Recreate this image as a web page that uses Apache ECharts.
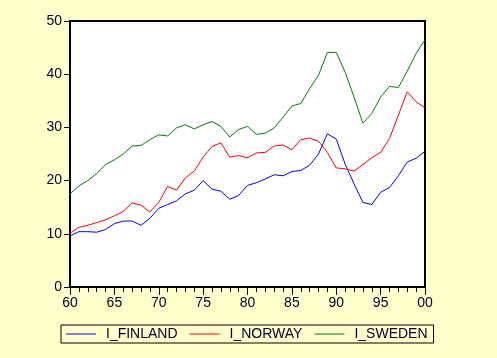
<!DOCTYPE html>
<html><head><meta charset="utf-8">
<script src="https://cdn.jsdelivr.net/npm/echarts@6/dist/echarts.min.js"></script>
<style>html,body{margin:0;padding:0;background:#FFFFCC;}#c{width:497px;height:358px;}</style>
</head><body><div id="c"></div>
<script>
const years = [];
for (let y = 1960; y <= 2000; y++) years.push(y);
const finland = [9.6,10.4,10.4,10.3,10.8,11.9,12.4,12.4,11.6,12.9,14.8,15.5,16.2,17.5,18.2,20.0,18.4,18.0,16.5,17.2,19.1,19.6,20.3,21.1,20.9,21.7,21.9,22.9,25.0,28.8,27.8,23.1,19.4,15.9,15.5,17.8,18.7,20.9,23.5,24.2,25.5];
const norway = [10.1,11.2,11.6,12.1,12.6,13.4,14.2,15.8,15.4,14.1,15.9,18.9,18.2,20.5,21.8,24.4,26.4,27.1,24.4,24.7,24.3,25.2,25.3,26.5,26.7,25.8,27.7,28.0,27.4,25.3,22.4,22.2,21.8,23.0,24.3,25.3,27.9,32.3,36.7,34.8,33.7];
const sweden = [17.5,19.0,20.0,21.3,23.0,23.9,25.0,26.5,26.6,27.7,28.6,28.4,29.9,30.5,29.7,30.5,31.1,30.2,28.2,29.6,30.2,28.7,28.9,29.9,31.9,34.0,34.5,37.3,39.8,44.1,44.1,40.4,35.7,30.8,32.6,35.7,37.7,37.5,40.6,43.9,46.5];
const names = ['I_FINLAND','I_NORWAY','I_SWEDEN'];
const colors = ['#0000FF','#FF0000','#008000'];
const yTicks = [0,10,20,30,40,50];

const chart = echarts.init(document.getElementById('c'));
const pair = arr => years.map((y,i)=>[y,arr[i]]);
const txt = '#000033';
chart.setOption({
  animation:false,
  backgroundColor:'#FFFFCC',
  textStyle:{fontFamily:'Liberation Sans, Arial, sans-serif'},
  grid:{left:70,top:21,right:72,bottom:71,show:true,backgroundColor:'#FFFFFF',borderColor:'#000',borderWidth:2},
  legend:{
    left:61, top:325, itemWidth:30, itemHeight:10, itemGap:12,
    padding:[2,6,2,5], borderColor:'#000', borderWidth:1,
    icon:'path://M0,0 L30,0 L30,1 L0,1 Z',
    textStyle:{fontSize:14,color:txt,padding:[0,0,0,5],fontFamily:'Liberation Sans, Arial, sans-serif'},
    data:names
  },
  xAxis:{
    type:'value', min:1960, max:2000, interval:5,
    axisLine:{show:true,lineStyle:{color:'#000',width:2}},
    axisTick:{show:true,inside:false,length:8,lineStyle:{color:'#000'}},
    minorTick:{show:true,splitNumber:5,length:5,lineStyle:{color:'#000'}},
    splitLine:{show:false},
    axisLabel:{fontSize:14,color:txt,margin:9,formatter:v=>String(v%100).padStart(2,'0')}
  },
  yAxis:{
    type:'value', min:yTicks[0], max:yTicks[yTicks.length-1], interval:10,
    axisLine:{show:true,lineStyle:{color:'#000',width:2}},
    axisTick:{show:true,inside:false,length:6,lineStyle:{color:'#000'}},
    splitLine:{show:false},
    axisLabel:{fontSize:14,color:txt,margin:8}
  },
  series:[finland,norway,sweden].map((d,i)=>({
    name:names[i], type:'line', data:pair(d), symbol:'none',
    lineStyle:{color:colors[i],width:1}, itemStyle:{color:colors[i]}
  }))
});
</script></body></html>
